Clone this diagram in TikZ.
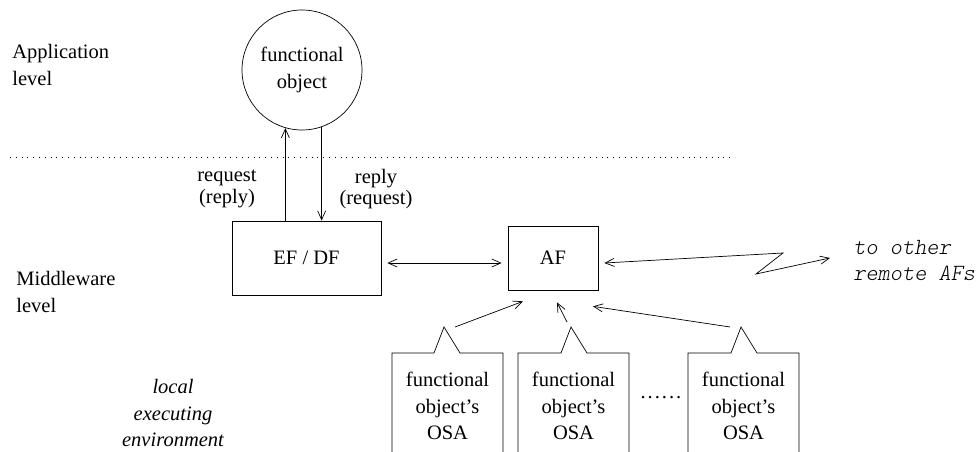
\documentclass[tikz,border=0pt]{standalone}
\usepackage{fontspec}
\setmainfont{Liberation Serif}
\newfontfamily\remotefont{lmmonolt10-oblique.otf}
\usetikzlibrary{arrows.meta,calc}
\begin{document}
\begin{tikzpicture}[x=1pt,y=-1pt,line width=0.7pt,
  txt/.style={inner sep=0pt,align=center,font=\fontsize{20.5}{26.5}\selectfont},
  tight/.style={txt,font=\fontsize{20.5}{21.5}\selectfont},
  lvl/.style={txt,align=left,anchor=west},
  box/.style={draw,rectangle,inner sep=0pt},
  tip/.tip={Straight Barb[length=9pt,width=8pt]},
  arr/.style={-tip},
  darr/.style={tip-tip}]
\useasboundingbox (0,0) rectangle (979,452);

% level labels
\node[lvl] (applvl) at (12,65) {Application\\level};
\node[lvl] (midlvl) at (16,292) {Middleware\\level};
\node[txt,font=\fontsize{20.5}{26.5}\selectfont\itshape] (local) at (173,413) {local\\executing\\environment};

% boundary between application and middleware level
\draw[dash pattern=on 0.8pt off 5pt] (10,157) -- (735,157);

% application object
\node[draw,circle,minimum size=120pt,inner sep=0pt,txt] (circ) at (302,70) {functional\\object};

% EF/DF and AF
\node[box,txt,minimum width=149pt,minimum height=74pt] (ef) at (306.5,258) {EF / DF};
\node[box,txt,minimum width=90pt,minimum height=64pt] (af) at (553,258) {AF};

\draw[arr] (ef.north -| circ.254.5) -- (circ.254.5);
\draw[arr] (circ.289.1) -- (ef.north -| circ.289.1);
\node[tight] (req) at (227,189) {request\\(reply)};
\node[tight] (rep) at (376,189) {reply\\(request)};

\draw[darr] ($(ef.east)+(6,5)$) -- ($(af.west)+(-6,5)$);

% link to remote AFs
\coordinate (z1) at (783,253);
\coordinate (z2) at (756,274);
\coordinate (z3) at (830,258);
\draw[darr] ($(af.east)+(6,5)$) -- (z1) -- (z2) -- (z3);
\node[txt,align=left,anchor=west,font=\fontsize{23.2}{26}\selectfont\remotefont] (remote) at (853,260) {to other\\remote AFs};

% OSA boxes with notches
\newcommand{\osabox}[4]{%
  \draw (#2,452) -- (#2,353) -- (#4,353) -- ($(#4,353)+(10,-26)$) coordinate (#1) -- ($(#4,353)+(26,0)$) -- (#3,353) -- (#3,452);}
\osabox{p1}{392}{503}{434}
\osabox{p2}{518}{629}{561}
\osabox{p3}{688}{799}{731}
\node[txt] (o1) at (447.5,406) {functional\\object's\\OSA};
\node[txt] (o2) at (573.5,406) {functional\\object's\\OSA};
\node[txt] (o3) at (743.5,406) {functional\\object's\\OSA};
\node[txt] (dots) at (661,398) {.\kern2pt.\kern2pt.\kern2pt.\kern2pt.\kern2pt.};

\draw[arr] ($(p1)+(11,0)$) -- ($(af.south)+(-30,11)$);
\draw[arr] ($(p2)+(-4,-5)$) -- ($(af.south)+(4,12)$);
\draw[arr] ($(p3)+(-11,0)$) -- ($(af.south)+(40,16)$);
\end{tikzpicture}
\end{document}
